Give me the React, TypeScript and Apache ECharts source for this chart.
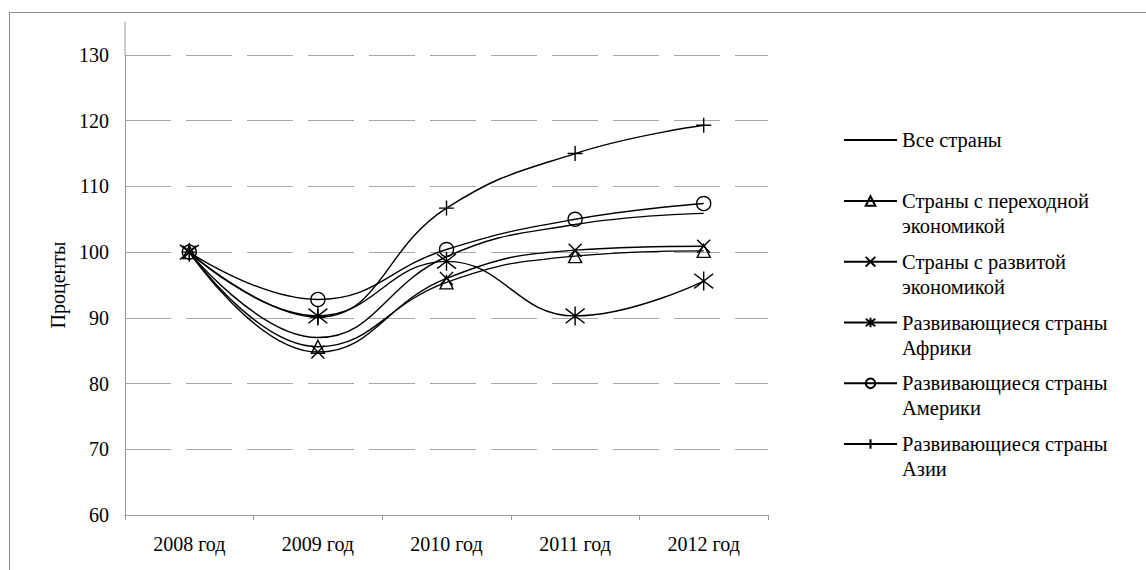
import React, { useEffect, useRef } from "react";
import * as echarts from "echarts";

const categories = ["2008 год", "2009 год", "2010 год", "2011 год", "2012 год"];
const seriesNames = [
  "Все страны",
  "Страны с переходной экономикой",
  "Страны с развитой экономикой",
  "Развивающиеся страны Африки",
  "Развивающиеся страны Америки",
  "Развивающиеся страны Азии",
];
const legendLabels = [
  "Все страны",
  "Страны с переходной\nэкономикой",
  "Страны с развитой\nэкономикой",
  "Развивающиеся страны\nАфрики",
  "Развивающиеся страны\nАмерики",
  "Развивающиеся страны\nАзии",
];
const allCountries = [100, 87.0, 99.3, 104.2, 105.9];
const transition = [100, 85.6, 95.4, 99.4, 100.2];
const developed = [100, 84.8, 96.0, 100.3, 100.9];
const africa = [100, 90.3, 98.6, 90.3, 95.6];
const america = [100, 92.8, 100.4, 105.0, 107.4];
const asia = [100, 90.1, 106.7, 115.0, 119.3];
const yMin = 60;
const yMax = 130;
const yStep = 10;

const FONT = "Liberation Serif";

const SYM_X = "path://M0,0L10,10M10,0L0,10";
const SYM_STAR = "path://M0,0L10,10M10,0L0,10M5,-1.5L5,11.5";
const SYM_PLUS = "path://M5,0L5,10M0,5L10,5";

export default function App() {
  const ref = useRef<HTMLDivElement>(null);
  useEffect(() => {
    document.body.style.margin = "0";
    const chart = echarts.init(ref.current!, null, { renderer: "svg" });
    const values = [allCountries, transition, developed, africa, america, asia];
    const symbols = ["none", "triangle", SYM_X, SYM_STAR, "circle", SYM_PLUS];
    const sizes = [0, 13, 13, 19, 14, 15];
    const series = values.map((d, i) => ({
      name: seriesNames[i],
      type: "line",
      data: d,
      smooth: 0.45,
      symbol: symbols[i],
      symbolSize: sizes[i],
      showSymbol: i !== 0,
      lineStyle: { color: "#000", width: 1.4 },
      itemStyle: { color: "rgba(255,255,255,0)", borderColor: "#000", borderWidth: 1.4 },
      z: 2 + i,
    }));
    const iconCenters = [140, 201, 261.7, 322.5, 383.3, 444];
    const legends = seriesNames.map((n, i) => ({
      data: [i === 0 ? { name: n, itemStyle: { opacity: 0 } } : { name: n }],
      orient: "vertical",
      left: 843,
      top: i === 0 ? iconCenters[i] - 12.5 : iconCenters[i] - 37.5,
      padding: 0,
      itemWidth: 53,
      itemHeight: 12,
      itemGap: 0,
      selectedMode: false,
      formatter: () => (i === 0 ? legendLabels[i] : "\n" + legendLabels[i]),
      textStyle: { fontFamily: FONT, fontSize: 20.5, lineHeight: 25, color: "#000" },
    }));
    chart.setOption({
      animation: false,
      backgroundColor: "#fff",
      textStyle: { fontFamily: FONT },
      grid: { left: 125, right: 378, top: 55, bottom: 55, containLabel: false },
      legend: legends,
      xAxis: {
        type: "category",
        data: categories,
        boundaryGap: true,
        axisLine: { lineStyle: { color: "#999", width: 1 } },
        axisTick: { show: true, length: 5, lineStyle: { color: "#999" } },
        axisLabel: { fontFamily: FONT, fontSize: 20, color: "#000", margin: 19 },
        splitLine: { show: false },
      },
      yAxis: {
        type: "value",
        min: yMin,
        max: yMax,
        interval: yStep,
        name: "Проценты",
        nameLocation: "middle",
        nameGap: 45,
        nameTextStyle: { fontFamily: FONT, fontSize: 20, color: "#000" },
        axisLine: { show: true, lineStyle: { color: "#999", width: 1 } },
        axisTick: { show: false },
        axisLabel: { fontFamily: FONT, fontSize: 20, color: "#000", margin: 16 },
        splitLine: { show: true, lineStyle: { color: "#a8a8a8", width: 1, type: [46, 15] } },
      },
      graphic: [
        {
          type: "rect",
          shape: { x: 9.5, y: 12.5, width: 2000, height: 1000 },
          style: { fill: "none", stroke: "#8c8c8c", lineWidth: 1 },
          silent: true,
          z: -10,
        },
        {
          type: "line",
          shape: { x1: 125, y1: 22, x2: 125, y2: 55 },
          style: { stroke: "#999", lineWidth: 1 },
          silent: true,
        },
      ],
      series,
    });
    return () => chart.dispose();
  }, []);
  return <div ref={ref} style={{ width: 1146, height: 570 }} />;
}
